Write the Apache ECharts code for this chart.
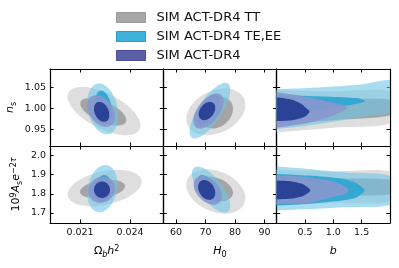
<!DOCTYPE html>
<html><head><meta charset="utf-8">
<script src="https://cdn.jsdelivr.net/npm/echarts@6/dist/echarts.min.js"></script>
<style>html,body{margin:0;padding:0;background:#fff}#c{width:399px;height:268px}</style>
</head><body><div id="c"></div>
<script>
// ---------- data ----------
const datasets = ['SIM ACT-DR4 TT', 'SIM ACT-DR4 TE,EE', 'SIM ACT-DR4'];
const xRanges = [[0.0192, 0.026], [55.7, 94.1], [0, 2]];
const yRanges = [[0.91, 1.095], [1.647, 2.05]];
const xTicks = [[0.021, 0.024], [60, 70, 80, 90], [0.5, 1.0, 1.5]];
const yTicks = [[0.95, 1.00, 1.05], [1.7, 1.8, 1.9, 2.0]];
const xDecimals = [3, 0, 1];
const yDecimals = [2, 1];

// ellipse contours [centre x, centre y, half-width x, half-height y, correlation]
// order: TT 2sig, TT 1sig, TE,EE 2sig, TE,EE 1sig, DR4 2sig, DR4 1sig
const ellNsOmb = [
  [0.02244, 0.994, 0.00219, 0.058, -0.6],
  [0.02240, 0.992, 0.00138, 0.033, -0.6],
  [0.02237, 0.999, 0.00093, 0.061, -0.25],
  [0.02242, 1.004, 0.00050, 0.039, -0.3],
  [0.02226, 0.994, 0.00083, 0.038, -0.35],
  [0.02230, 0.992, 0.00046, 0.024, -0.3]
];
const ellNsH0 = [
  [73.5, 0.992, 10.0, 0.056, 0.3],
  [73.8, 0.990, 5.5, 0.038, 0.25],
  [71.5, 0.995, 6.9, 0.067, 0.75],
  [71.0, 0.998, 3.6, 0.036, 0.7],
  [71.0, 0.994, 5.1, 0.042, 0.55],
  [70.5, 0.994, 2.8, 0.022, 0.35]
];
const ellAsOmb = [
  [0.02248, 1.830, 0.00222, 0.095, 0.35],
  [0.02235, 1.825, 0.00135, 0.048, 0.3],
  [0.02234, 1.827, 0.00090, 0.124, 0.2],
  [0.02236, 1.828, 0.00050, 0.070, 0.2],
  [0.02230, 1.821, 0.00080, 0.069, 0.1],
  [0.02232, 1.821, 0.00048, 0.043, 0.0]
];
const ellAsH0 = [
  [73.5, 1.812, 10.0, 0.116, -0.3],
  [72.9, 1.825, 6.4, 0.065, -0.3],
  [71.9, 1.822, 6.5, 0.120, -0.7],
  [71.3, 1.828, 3.8, 0.070, -0.65],
  [70.8, 1.818, 4.8, 0.075, -0.4],
  [70.4, 1.820, 2.9, 0.052, -0.3]
];
// b-contours: sample b values with upper / lower bound of the contour
const hornNsB = [
  {b: [0, 1, 2.05], up: [1.044, 1.041, 1.039], lo: [0.943, 0.954, 0.967]},
  {b: [0, 1, 2.05], up: [1.025, 1.022, 1.020], lo: [0.962, 0.972, 0.985]},
  {b: [0, 0.5, 1, 1.5, 2.05], up: [1.047, 1.049, 1.053, 1.058, 1.066], lo: [0.951, 0.958, 0.968, 0.980, 0.995]},
  {b: [0, 0.56, 1.16, 1.46, 1.53, 1.56], up: [1.033, 1.030, 1.027, 1.024, 1.021, 1.018], lo: [0.977, 0.993, 1.006, 1.013, 1.016, 1.018]},
  {b: [0, 0.56, 0.86, 1.16, 1.22, 1.25], up: [1.039, 1.027, 1.018, 1.009, 1.004, 1.001], lo: [0.954, 0.965, 0.977, 0.993, 0.998, 1.001]},
  {b: [0, 0.27, 0.45, 0.53, 0.58], up: [1.027, 1.021, 1.010, 1.000, 0.993], lo: [0.970, 0.972, 0.978, 0.984, 0.993]}
];
const hornAsB = [
  {b: [0, 1, 2.05], up: [1.925, 1.918, 1.912], lo: [1.739, 1.752, 1.765]},
  {b: [0, 1, 2.05], up: [1.887, 1.880, 1.870], lo: [1.783, 1.790, 1.800]},
  {b: [0, 0.56, 1.16, 2.05], up: [1.943, 1.930, 1.912, 1.887], lo: [1.713, 1.720, 1.730, 1.748]},
  {b: [0, 0.56, 1.16, 1.40, 1.50, 1.55], up: [1.904, 1.895, 1.878, 1.856, 1.835, 1.817], lo: [1.739, 1.748, 1.765, 1.779, 1.800, 1.817]},
  {b: [0, 0.565, 0.98, 1.22, 1.27], up: [1.895, 1.887, 1.866, 1.835, 1.817], lo: [1.748, 1.752, 1.783, 1.800, 1.817]},
  {b: [0, 0.27, 0.475, 0.595], up: [1.869, 1.864, 1.848, 1.817], lo: [1.771, 1.775, 1.790, 1.817]}
];
const panelShapes = [[ellNsOmb, ellNsH0, hornNsB], [ellAsOmb, ellAsH0, hornAsB]];

// ---------- styling ----------
const FONT = 'DejaVu Sans';
const fills = [
  ['#dedede', '#a4a4a4'],
  ['rgba(110,197,230,0.6)', 'rgba(45,166,211,0.92)'],
  ['rgba(135,150,205,0.9)', '#2a4397']
];
const legendColors = [['#a6a6a6', '#9a9a9a'], ['#3db1d9', '#2a9ccb'], ['#5b5fa8', '#4a4d9c']];
const colL = [50, 163.3, 276.7], colW = 113.3;
const rowT = [69, 146], rowH = 77;

function ellipsePts(e) {
  const [cx, cy, sx, sy, r] = e, q = Math.sqrt(1 - r * r), pts = [];
  for (let i = 0; i < 96; i++) {
    const t = i / 96 * 2 * Math.PI;
    pts.push([cx + sx * Math.cos(t), cy + sy * (r * Math.cos(t) + q * Math.sin(t))]);
  }
  return pts;
}
function hornPts(h) {
  const pts = [[-0.1, h.up[0]]];
  for (let i = 0; i < h.b.length; i++) pts.push([h.b[i], h.up[i]]);
  for (let i = h.b.length - 1; i >= 0; i--) {
    if (i === h.b.length - 1 && h.up[i] === h.lo[i]) continue;
    pts.push([h.b[i], h.lo[i]]);
  }
  pts.push([-0.1, h.lo[0]]);
  return pts;
}

const grids = [], xAxes = [], yAxes = [], series = [];
const rich = {
  r: {fontSize: 11, fontFamily: FONT, color: '#000', lineHeight: 15},
  i: {fontSize: 11, fontFamily: FONT, fontStyle: 'italic', color: '#000', lineHeight: 15},
  sub: {fontSize: 8, fontFamily: FONT, color: '#000', lineHeight: 9, padding: [6, 0, 0, 0]},
  subi: {fontSize: 8, fontFamily: FONT, fontStyle: 'italic', color: '#000', lineHeight: 9, padding: [6, 0, 0, 0]},
  sup: {fontSize: 8, fontFamily: FONT, color: '#000', lineHeight: 9, padding: [0, 0, 6, 0]},
  supi: {fontSize: 8, fontFamily: FONT, fontStyle: 'italic', color: '#000', lineHeight: 9, padding: [0, 0, 6, 0]}
};
const xNames = ['{r|Ω}{subi|b}{i|h}{sup|2}', '{i|H}{sub|0}', '{i|b}'];
const yNames = ['{i|n}{sub|s}', '{r|10}{sup|9}{i|A}{sub|s}{i|e}{sup|−2}{supi|τ}'];
const yNameGaps = [32, 26];

const axLine = {show: true, onZero: false, lineStyle: {color: '#000', width: 1.2}};
const tickStyle = {color: '#000', width: 1};

for (let r = 0; r < 2; r++) {
  for (let c = 0; c < 3; c++) {
    const g = grids.length;
    grids.push({left: colL[c], top: rowT[r], width: colW, height: rowH});
    const xBase = {type: 'value', gridIndex: g, min: xRanges[c][0], max: xRanges[c][1], splitLine: {show: false},
      axisLine: axLine, axisTick: {inside: true, length: 3.5, customValues: xTicks[c], lineStyle: tickStyle}};
    xAxes.push(Object.assign({}, xBase, {position: 'bottom',
      axisLabel: {show: r === 1, customValues: xTicks[c], margin: 5, fontSize: 9.5, fontFamily: FONT, color: '#111',
        formatter: v => v.toFixed(xDecimals[c])},
      name: r === 1 ? xNames[c] : '', nameLocation: 'middle', nameGap: 21,
      nameTextStyle: {rich: rich}}));
    xAxes.push(Object.assign({}, xBase, {position: 'top', axisLabel: {show: false}}));
    const yBase = {type: 'value', gridIndex: g, min: yRanges[r][0], max: yRanges[r][1], splitLine: {show: false},
      axisLine: axLine, axisTick: {inside: true, length: 3.5, customValues: yTicks[r], lineStyle: tickStyle}};
    yAxes.push(Object.assign({}, yBase, {position: 'left',
      axisLabel: {show: c === 0, customValues: yTicks[r], margin: 4, fontSize: 9.5, fontFamily: FONT, color: '#111',
        formatter: v => v.toFixed(yDecimals[r])},
      name: c === 0 ? yNames[r] : '', nameLocation: 'middle', nameRotate: 90, nameGap: yNameGaps[r],
      nameTextStyle: {rich: rich}}));
    yAxes.push(Object.assign({}, yBase, {position: 'right', axisLabel: {show: false}}));

    const shapes = panelShapes[r][c];
    const isHorn = c === 2;
    for (let d = 0; d < 3; d++) {
      const data = [];
      for (let k = 0; k < 2; k++) {
        const s = shapes[d * 2 + k];
        data.push(isHorn ? [1, (s.up[0] + s.lo[0]) / 2, d * 2 + k] : [s[0], s[1], d * 2 + k]);
      }
      series.push({
        type: 'custom', name: datasets[d], coordinateSystem: 'cartesian2d',
        xAxisIndex: g * 2, yAxisIndex: g * 2, silent: true, animation: false,
        itemStyle: {color: legendColors[d][0]},
        data: data,
        renderItem: (params, api) => {
          const k = api.value(2);
          const raw = isHorn ? hornPts(shapes[k]) : ellipsePts(shapes[k]);
          const pts = raw.map(p => api.coord(p));
          const cs = params.coordSys;
          return {type: 'polygon', shape: {points: pts, smooth: isHorn ? 0.25 : 0},
            style: {fill: fills[d][k % 2], stroke: null},
            clipPath: {type: 'rect', shape: {x: cs.x, y: cs.y, width: cs.width, height: cs.height}}};
        }
      });
    }
  }
}

const chart = echarts.init(document.getElementById('c'), null, {renderer: 'canvas'});
chart.setOption({
  animation: false,
  backgroundColor: '#fff',
  legend: {
    orient: 'vertical', left: 116, top: 11, padding: 0, itemWidth: 29, itemHeight: 10, itemGap: 6, icon: 'rect',
    selectedMode: false,
    textStyle: {fontSize: 13, fontFamily: FONT, color: '#111', padding: [0, 0, 0, 6]},
    data: datasets.map((n, i) => ({name: n, itemStyle: {color: legendColors[i][0], borderColor: legendColors[i][1], borderWidth: 1}}))
  },
  grid: grids, xAxis: xAxes, yAxis: yAxes, series: series
});
</script></body></html>
